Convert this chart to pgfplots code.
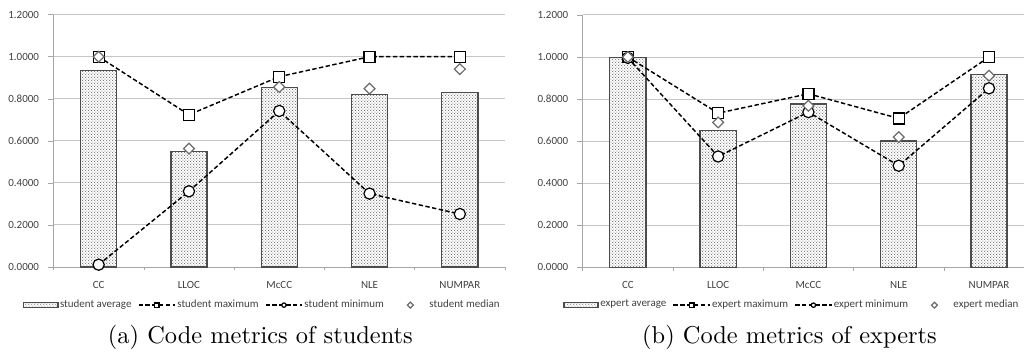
\documentclass[border=0pt]{standalone}
\usepackage{fontspec}
\newfontfamily\chartfont{Carlito}
\usepackage{pgfplots}
\usepackage{pgfplotstable}
\pgfplotsset{compat=1.18}
\usetikzlibrary{patterns}

\pgfdeclarepatternformonly{finedots}{\pgfpoint{0pt}{0pt}}{\pgfpoint{1.3pt}{1.3pt}}{\pgfpoint{1.3pt}{1.3pt}}{%
  \pgfpathcircle{\pgfpoint{0.32pt}{0.32pt}}{0.26pt}%
  \pgfpathcircle{\pgfpoint{0.97pt}{0.97pt}}{0.26pt}%
  \pgfusepath{fill}}

\pgfplotstableread{
x avg max min med
0 0.935 1.000 0.011 1.000
1 0.550 0.724 0.360 0.563
2 0.854 0.905 0.742 0.856
3 0.821 1.000 0.349 0.848
4 0.829 1.000 0.252 0.941
}\studenttable

\pgfplotstableread{
x avg max min med
0 0.998 1.000 0.996 1.000
1 0.649 0.733 0.527 0.689
2 0.776 0.825 0.738 0.768
3 0.600 0.708 0.483 0.619
4 0.916 1.000 0.851 0.911
}\experttable

\pgfplotsset{
  metricaxis/.style={
    anchor=south west, scale only axis, height=103.4pt,
    xmin=-0.5, ymin=0, ymax=1.2,
    ytick={0,0.2,0.4,0.6,0.8,1.0,1.2},
    xtick={0,1,2,3,4}, xticklabels={CC,LLOC,McCC,NLE,NUMPAR},
    minor xtick={-0.5,0.5,1.5,2.5,3.5,4.5},
    axis x line*=bottom, axis y line*=left,
    ymajorgrids, grid style={gray!45},
    axis line style={gray!70, -},
    tick style={gray!70},
    major x tick style={draw=none},
    tick align=outside, major tick length=2.4pt, minor tick length=1.4pt,
    ticklabel style={font=\chartfont\fontsize{4.5}{5}\selectfont, text=darkgray},
    /pgf/number format/assume math mode=true,
    yticklabel style={/pgf/number format/.cd, fixed, fixed zerofill, precision=4},
    clip=false,
    legend columns=4,
    legend cell align=left,
    legend style={draw=none, fill=none, inner sep=0pt,
      font=\chartfont\fontsize{4.5}{5}\selectfont, text=darkgray,
      nodes={inner sep=0.6pt},
      /tikz/every even column/.append style={column sep=2pt}},
  },
  avgstyle/.style={ybar, bar width=14.8pt, draw=black!70, line width=0.55pt,
    fill=white, postaction={pattern=finedots, pattern color=black!55},
    legend image code/.code={\draw[##1] (0pt,-0.9pt) rectangle (14pt,1.1pt);}},
  linestyle/.style={black, line width=0.6pt, dash pattern=on 1.8pt off 1pt,
    legend image code/.code={\draw[##1, mark size=0.9pt, mark repeat=2, mark phase=2] plot coordinates {(0pt,0pt) (7.5pt,0pt) (15pt,0pt)};}},
  maxstyle/.style={linestyle, mark=square*, mark size=2.25pt, mark options={solid, fill=white, draw=black, line width=0.5pt}},
  minstyle/.style={linestyle, mark=*, mark size=2.3pt, mark options={solid, fill=white, draw=black, line width=0.5pt}},
  medstyle/.style={only marks, mark=diamond*, mark size=2.2pt, mark options={fill=white, draw=gray!85!black, line width=0.5pt, xscale=1.35},
    legend image code/.code={\path (0pt,0pt) (15pt,0pt); \draw[##1, mark size=1.2pt] plot coordinates {(8pt,0pt)};}},
}

\begin{document}
\begin{tikzpicture}
\path[use as bounding box] (0pt,0pt) rectangle (420pt,146.7pt);

\begin{axis}[metricaxis, at={(21.92pt,37.29pt)}, width=185pt, xmax=4.5,
  legend style={at={(0.462,-0.151)}, anchor=center}]
\addplot[avgstyle] table[x=x, y=avg] {\studenttable};
\addlegendentry{student average}
\addplot[maxstyle] table[x=x, y=max] {\studenttable};
\addlegendentry{student maximum}
\addplot[minstyle] table[x=x, y=min] {\studenttable};
\addlegendentry{student minimum}
\addplot[medstyle] table[x=x, y=med] {\studenttable};
\addlegendentry{student median}
\end{axis}

\begin{axis}[metricaxis, at={(238.77pt,37.17pt)}, width=180.9pt, xmax=4.39,
  legend style={at={(0.473,-0.150)}, anchor=center}]
\addplot[avgstyle] table[x=x, y=avg] {\experttable};
\addlegendentry{expert average}
\addplot[maxstyle] table[x=x, y=max] {\experttable};
\addlegendentry{expert maximum}
\addplot[minstyle] table[x=x, y=min] {\experttable};
\addlegendentry{expert minimum}
\addplot[medstyle] table[x=x, y=med] {\experttable};
\addlegendentry{expert median}
\end{axis}

\node[anchor=base, font=\fontsize{10}{12}\selectfont] at (106.7pt,6.1pt) {(a) Code metrics of students};
\node[anchor=base, font=\fontsize{10}{12}\selectfont] at (323.5pt,6.1pt) {(b) Code metrics of experts};
\end{tikzpicture}
\end{document}
